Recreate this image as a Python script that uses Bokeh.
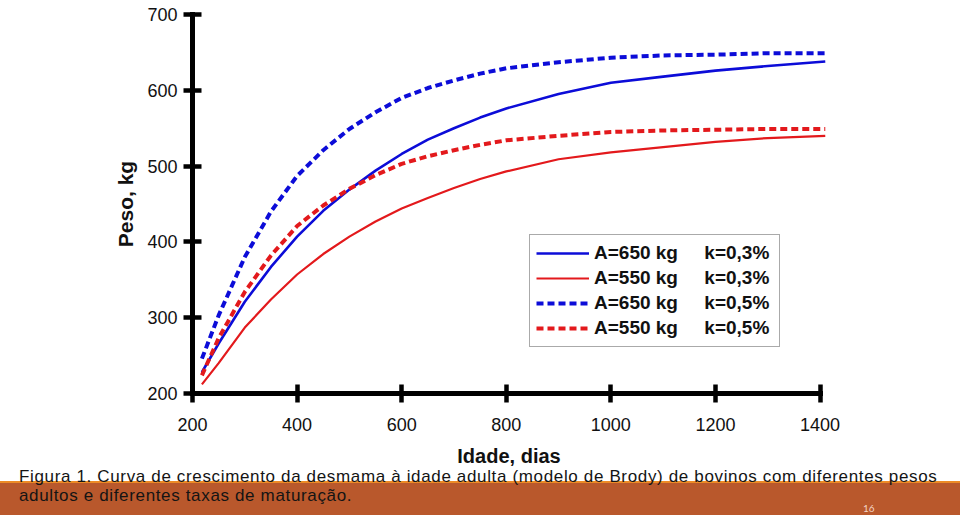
from bokeh.plotting import figure
from bokeh.layouts import column
from bokeh.models import Range1d, FixedTicker, Div
from bokeh.embed import file_html
from bokeh.resources import INLINE

# ---- data ----
days = [218, 250, 300, 350, 400, 450, 500, 550, 600, 650, 700, 750, 800, 900, 1000, 1100, 1200, 1300, 1410]
w650_k03 = [228, 266, 321, 367, 407, 441, 469, 494, 516, 535, 550, 564, 576, 595, 610, 618, 626, 632, 638]
w550_k03 = [212, 240, 287, 324, 357, 384, 407, 427, 444, 458, 471, 483, 493, 509, 518, 525, 532, 537, 540]
w650_k05 = [246, 303, 380, 440, 487, 521, 549, 571, 590, 603, 613, 622, 629, 637, 643, 646, 647, 649, 649]
w550_k05 = [224, 273, 334, 382, 421, 448, 470, 488, 503, 513, 521, 528, 534, 540, 545, 547, 548, 549, 549]

x_ticks = [200, 400, 600, 800, 1000, 1200, 1400]
y_ticks = [200, 300, 400, 500, 600, 700]

labels = ["A=650 kg\u00a0\u00a0\u00a0\u00a0\u00a0k=0,3%",
          "A=550 kg\u00a0\u00a0\u00a0\u00a0\u00a0k=0,3%",
          "A=650 kg\u00a0\u00a0\u00a0\u00a0\u00a0k=0,5%",
          "A=550 kg\u00a0\u00a0\u00a0\u00a0\u00a0k=0,5%"]

x_title = "Idade, dias"
y_title = "Peso, kg"
caption1 = "Figura 1. Curva de crescimento da desmama à idade adulta (modelo de Brody) de bovinos com diferentes pesos"
caption2 = "adultos e diferentes taxas de maturação."
page_no = "16"

BLUE = "#0c0cd8"
RED = "#e3191c"
FONT = "Liberation Sans"

# ---------------- chart ----------------
p = figure(frame_width=638, frame_height=379,
           x_range=Range1d(200, 1420), y_range=Range1d(200, 700),
           output_backend="svg", toolbar_location=None,
           min_border_left=192, min_border_right=130,
           min_border_top=14, min_border_bottom=47)
p.outline_line_color = None
p.grid.visible = False
p.background_fill_color = "white"
p.border_fill_color = "white"

p.line(days, w650_k03, color=BLUE, line_width=2.6, legend_label=labels[0])
p.line(days, w550_k03, color=RED, line_width=2.2, legend_label=labels[1])
p.line(days, w650_k05, color=BLUE, line_width=4, line_dash="7 4", legend_label=labels[2])
p.line(days, w550_k05, color=RED, line_width=4, line_dash="7 4", legend_label=labels[3])

for ax in (p.xaxis[0], p.yaxis[0]):
    ax.axis_line_width = 5
    ax.axis_line_color = "black"
    ax.axis_line_cap = "square"
    ax.major_tick_line_width = 4.5
    ax.major_tick_line_color = "black"
    ax.major_tick_in = 9
    ax.major_tick_out = 9
    ax.minor_tick_line_color = None
    ax.major_label_text_font = FONT
    ax.major_label_text_font_size = "18px"
    ax.major_label_text_color = "#111111"
    ax.axis_label_text_font = FONT
    ax.axis_label_text_font_style = "bold"
    ax.axis_label_text_font_size = "21px"
    ax.axis_label_text_color = "#111111"

p.xaxis.ticker = FixedTicker(ticks=x_ticks)
p.yaxis.ticker = FixedTicker(ticks=y_ticks)
p.xaxis.bounds = (200, 1400)
p.yaxis.bounds = (200, 700)
p.xaxis.major_label_standoff = 15
p.yaxis.major_label_standoff = 6
p.yaxis.axis_label = y_title
p.yaxis.axis_label_standoff = 7

lg = p.legend[0]
lg.location = (337, 46)
lg.padding = 6
lg.spacing = 1
lg.margin = 0
lg.glyph_width = 53
lg.glyph_height = 24
lg.label_height = 24
lg.label_width = 179
lg.label_standoff = 5
lg.label_text_font = FONT
lg.label_text_font_style = "bold"
lg.label_text_font_size = "19px"
lg.label_text_color = "#111111"
lg.border_line_color = "#555555"
lg.border_line_width = 1.5
lg.background_fill_color = "white"
lg.background_fill_alpha = 1

# ---------------- bottom strip: x title, caption, slide bar ----------------
def span(text, left, baseline, size, extra=""):
    top = round(baseline - 0.8465 * size, 2)   # line-height:1 with Liberation Sans metrics
    return (f'<span style="position:absolute;left:{left}px;top:{top}px;font-size:{size}px;'
            f'line-height:1;white-space:nowrap;{extra}">{text}</span>')

html = (
    '<div style="position:relative;width:960px;height:75px;overflow:hidden;margin:0;padding:0;'
    'background:linear-gradient(to bottom,#ffffff 0px,#ffffff 41px,#ed8b26 41px,#ed8b26 43.5px,'
    '#b9582c 43.5px,#b9582c 75px);font-family:\'Liberation Sans\',Arial,sans-serif;color:#141414;">'
    + span(x_title, 509, 23, 20, "font-weight:bold;color:#111111;transform:translateX(-50%);")
    + span(caption1, 19, 42.7, 17, "letter-spacing:0.65px;")
    + span(caption2, 19, 61.8, 17, "letter-spacing:0.65px;")
    + span(page_no, 863, 71.5, 10, "font-family:Lato,sans-serif;color:#f3d3c3;")
    + '</div>'
)
strip = Div(text=html, width=960, height=75, margin=0)

layout = column(p, strip, spacing=0)
open("out.html", "w").write(file_html(layout, INLINE))
